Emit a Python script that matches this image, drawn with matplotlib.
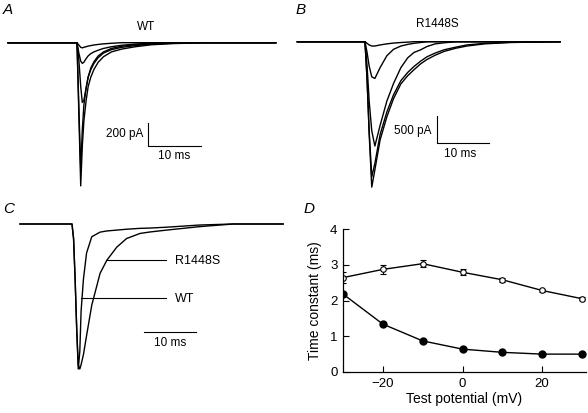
import numpy as np
import matplotlib
matplotlib.use("Agg")
import matplotlib.pyplot as plt

plt.rcParams['font.family'] = ['Liberation Sans', 'DejaVu Sans']

W, H = 588, 413

# ---------------- data ----------------
# Panel A: WT currents (time in ms from onset, current in pA)
tA = [-13, 0, 0.35, 0.7, 1.0, 1.3, 1.7, 2.1, 2.6, 3.2, 4.0, 5.0, 6.5, 8.5, 11, 14, 18, 24, 30, 37.5]
wt_traces = [
    [0, 0, -620, -1245, -900, -680, -510, -383, -300, -232, -170, -122, -80, -55, -35, -18, -8, 0, 0, 0],
    [0, 0, -560, -1100, -760, -540, -400, -300, -235, -180, -130, -90, -60, -40, -25, -12, -5, 0, 0, 0],
    [0, 0, -150, -380, -520, -500, -400, -300, -220, -165, -115, -80, -50, -30, -18, -8, -3, 0, 0, 0],
    [0, 0, -90, -160, -180, -170, -140, -115, -95, -80, -65, -50, -35, -22, -12, -5, 0, 0, 0, 0],
    [0, 0, -20, -40, -45, -40, -35, -30, -25, -20, -15, -10, -5, 0, 0, 0, 0, 0, 0, 0],
]

# Panel B: R1448S currents
tB = [-13, 0, 0.4, 0.8, 1.3, 1.9, 2.9, 4.2, 5.5, 6.9, 8.2, 9.4, 10.7, 11.9, 13.5, 15.2, 17.5, 19.6, 23, 28, 37.5]
mut_traces = [
    [0, 0, -700, -1700, -2690, -2370, -1820, -1390, -1050, -780, -630, -520, -410, -330, -250, -180, -120, -80, -40, -15, 0],
    [0, 0, -700, -1650, -2500, -2250, -1720, -1300, -980, -720, -570, -460, -360, -280, -210, -150, -100, -60, -30, -10, 0],
    [0, 0, -450, -1100, -1650, -1930, -1550, -1100, -770, -480, -300, -200, -150, -90, -40, -20, 0, 0, 0, 0, 0],
    [0, 0, -200, -450, -650, -680, -480, -260, -140, -80, -50, -30, -15, 0, 0, 0, 0, 0, 0, 0, 0],
    [0, 0, -30, -60, -80, -80, -60, -40, -25, -15, -8, 0, 0, 0, 0, 0, 0, 0, 0, 0, 0],
]

# Panel C: normalised currents
tC = [-10, 0, 0.3, 0.6, 0.9, 1.2, 1.5, 1.75, 2.2, 2.8, 3.8, 5.4, 6.7, 8.6, 10.5, 13.1, 15, 18.2, 24.6, 31, 40.6]
wt_norm = [0, 0, -0.1, -0.38, -0.72, -1.0, -0.88, -0.6, -0.38, -0.2, -0.088, -0.056, -0.048, -0.042,
           -0.036, -0.03, -0.028, -0.022, -0.007, 0, 0]
mut_norm = [0, 0, -0.1, -0.38, -0.72, -0.97, -1.0, -0.97, -0.9, -0.77, -0.56, -0.34, -0.25, -0.16,
            -0.1, -0.065, -0.055, -0.042, -0.018, 0, 0]

# Panel D: time constants (ms) vs test potential (mV)
potential = [-30, -20, -10, 0, 10, 20, 30]
tau_slow = [2.64, 2.87, 3.03, 2.79, 2.58, 2.28, 2.05]
tau_slow_err = [0.16, 0.13, 0.1, 0.08, 0.05, 0.05, 0.04]
tau_fast = [2.18, 1.34, 0.87, 0.64, 0.55, 0.5, 0.5]

# ---------------- figure ----------------
fig = plt.figure(figsize=(W / 100, H / 100), dpi=100)


def trace_axes(box, x0, y0, px_x, px_y):
    # box in pixels (left, top, right, bottom); x0,y0 = pixel of data origin
    left, top, right, bottom = box
    ax = fig.add_axes([left / W, 1 - bottom / H, (right - left) / W, (bottom - top) / H])
    ax.set_xlim((left - x0) / px_x, (right - x0) / px_x)
    ax.set_ylim((y0 - bottom) / px_y, (y0 - top) / px_y)
    ax.axis('off')
    return ax


lw = 1.0
fs = 8.5

# A
axA = trace_axes((0, 0, 294, 200), 77, 42.7, 5.3, 0.115)
for tr in wt_traces:
    axA.plot(tA, tr, color='black', lw=lw)
axA.plot([13.4, 13.4, 23.4], [-698, -898, -898], color='black', lw=0.8)
axA.text(12.5, -795, "200 pA", ha='right', va='center', fontsize=fs)
axA.text(18.4, -985, "10 ms", ha='center', va='center', fontsize=fs)
axA.text(13, 136, "WT", ha='center', va='center', fontsize=fs)

# B
axB = trace_axes((294, 0, 588, 200), 365, 41.7, 5.2, 1 / 18.5)
for tr in mut_traces:
    axB.plot(tB, tr, color='black', lw=lw)
axB.plot([13.85, 13.85, 23.85], [-1370, -1870, -1870], color='black', lw=0.8)
axB.text(12.7, -1650, "500 pA", ha='right', va='center', fontsize=fs)
axB.text(18.3, -2080, "10 ms", ha='center', va='center', fontsize=fs)
axB.text(14, 325, "R1448S", ha='center', va='center', fontsize=fs)

# C
axC = trace_axes((0, 200, 294, 413), 72, 224, 5.2, 145)
axC.plot(tC, wt_norm, color='black', lw=lw)
axC.plot(tC, mut_norm, color='black', lw=lw)
axC.plot([6.7, 18.1], [-0.248, -0.248], color='black', lw=0.8)
axC.plot([1.73, 18.1], [-0.51, -0.51], color='black', lw=0.8)
axC.text(19.8, -0.255, "R1448S", ha='left', va='center', fontsize=fs + 0.5)
axC.text(19.8, -0.52, "WT", ha='left', va='center', fontsize=fs + 0.5)
axC.plot([13.85, 23.85], [-0.745, -0.745], color='black', lw=0.8)
axC.text(18.8, -0.82, "10 ms", ha='center', va='center', fontsize=fs)

# D
axD = fig.add_axes([343 / W, (H - 372) / H, (586 - 343) / W, (372 - 229) / H])
axD.errorbar(potential, tau_slow, yerr=tau_slow_err, color='black', lw=1.0,
             marker='o', ms=4, mfc='white', mec='black', mew=0.8,
             capsize=2.5, elinewidth=0.8, capthick=0.8)
axD.plot(potential, tau_fast, color='black', lw=1.0, marker='o', ms=5)
axD.set_xlim(-30, 31)
axD.set_ylim(0, 4)
axD.set_xticks([-20, 0, 20])
axD.set_yticks([0, 1, 2, 3, 4])
axD.spines['top'].set_visible(False)
axD.spines['right'].set_visible(False)
axD.tick_params(direction='in', length=4, labelsize=9.5, width=0.8, pad=4)
for s in ('left', 'bottom'):
    axD.spines[s].set_linewidth(0.9)
axD.set_xlabel("Test potential (mV)", fontsize=10, labelpad=2)
axD.set_ylabel("Time constant (ms)", fontsize=10, labelpad=6)

# panel letters
for letter, x, y in [("A", 3, 3), ("B", 296, 3), ("C", 3, 202), ("D", 304, 202)]:
    fig.text(x / W, 1 - y / H, letter, ha='left', va='top', fontsize=11, style='italic')

fig.savefig("out.png", dpi=100)
